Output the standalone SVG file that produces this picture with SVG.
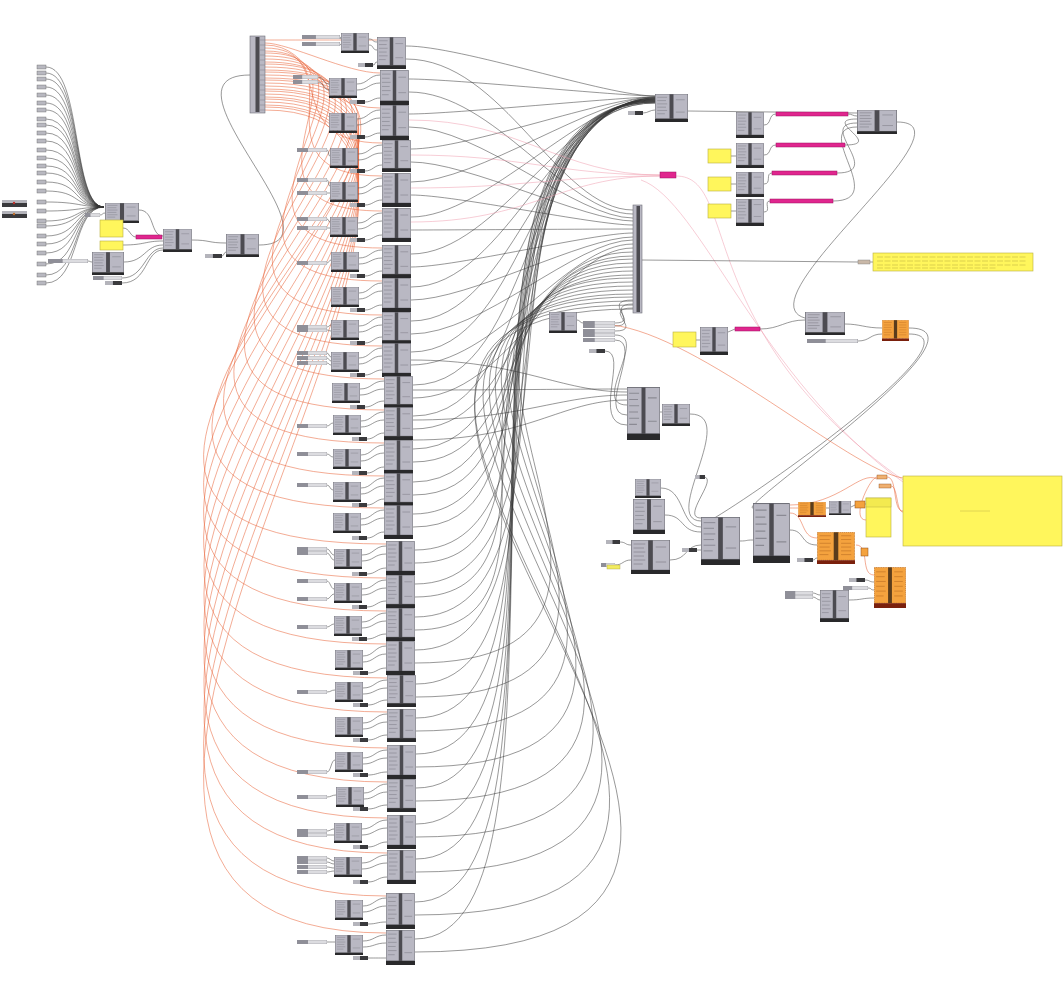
<svg xmlns="http://www.w3.org/2000/svg" width="1063" height="997" viewBox="0 0 1063 997">
<style>
.w{fill:none;stroke:#333;stroke-width:.6;opacity:.85}
.o{fill:none;stroke:#e8643a;stroke-width:.6;opacity:.9}
.p{fill:none;stroke:#ee9aac;stroke-width:.5}
.g{fill:none;stroke:#555;stroke-width:.6}
.yl{fill:#fff65c;stroke:#b8b040;stroke-width:.6}
.mg{fill:#e0268e;stroke:#9c1060;stroke-width:.5}
.fs{fill:#b8b8c0;stroke:#666;stroke-width:.4}
.bd{fill:#b9b8c3;stroke:#707079;stroke-width:.6}
.st{fill:#4c4b51}
</style>
<defs>
<symbol id="c" viewBox="0 0 30 34" preserveAspectRatio="none">
<rect x=".3" y=".3" width="29.4" height="29.7" fill="#b9b8c3" stroke="#707079" stroke-width=".6"/>
<rect x="13.2" y=".3" width="3.6" height="29.7" fill="#4c4b51"/>
<rect y="30" width="30" height="4" fill="#29292b"/>
<path d="M2 4h9M2 8h8M2 12h9M2 16h8M2 20h9M2 24h7M19 7h8M19 22h8" stroke="#8b8a94" stroke-width=".7"/>
</symbol>
<symbol id="co" viewBox="0 0 30 34" preserveAspectRatio="none">
<rect x=".3" y=".3" width="29.4" height="29.7" fill="#f4a23e" stroke="#b5651d" stroke-width=".6" stroke-dasharray="1 .6"/>
<rect x="13.2" y=".3" width="3.6" height="29.7" fill="#5a3c1c"/>
<rect y="30" width="30" height="4" fill="#7a200c"/>
<path d="M2 4h9M2 8h8M2 12h9M2 16h8M2 20h9M2 24h7M19 4h8M19 8h8M19 12h8M19 16h8M19 20h8M19 24h8" stroke="#c97a2a" stroke-width=".7"/>
</symbol>
<symbol id="sl" viewBox="0 0 30 4" preserveAspectRatio="none">
<rect width="30" height="4" fill="#dcdce0" stroke="#8a8a90" stroke-width=".5"/>
<rect width="11" height="4" fill="#8f8f98"/>
</symbol>
<symbol id="tg" viewBox="0 0 15 4" preserveAspectRatio="none">
<rect width="15" height="4" fill="#3a3a3d"/>
<rect width="7" height="4" fill="#b4b4bb"/>
</symbol>
</defs>
<rect width="1063" height="997" fill="#ffffff"/>

<g id="connectors">
<path class="w" d="M46,67 C82,67 72,207 104,207 M46,73 C82,73 72,207 104,207 M46,79 C82,79 72,207 104,207 M46,87 C82,87 72,207 104,207 M46,95 C82,95 72,207 104,207 M46,103 C82,103 72,207 104,207 M46,110 C82,110 72,207 104,207 M46,119 C82,119 72,207 104,207 M46,125 C82,125 72,207 104,207 M46,133 C82,133 72,207 104,207 M46,141 C82,141 72,207 104,207 M46,150 C82,150 72,207 104,207 M46,158 C82,158 72,207 104,207 M46,166 C82,166 72,207 104,207 M46,173 C82,173 72,207 104,207 M46,182 C82,182 72,207 104,207 M46,191 C82,191 72,207 104,207 M46,202 C80,202 80,207 104,207 M46,211 C80,211 80,207 104,207 M46,221 C80,221 76,207 104,207 M46,226 C80,226 76,207 104,207 M46,236 C80,236 74,207 104,207 M46,244 C80,244 74,207 104,207 M46,253 C80,253 72,207 104,207 M46,264 C80,264 72,207 104,207 M46,275 C80,275 72,207 104,207 M46,283 C80,283 72,207 104,207"/>
<path class="w" d="M139,210 C155,210 150,236 163,236 M123,228 C130,228 130,237 136,237 M124,262 C145,262 145,245 163,245 M123,245 C145,245 145,241 163,241 M122,278 C145,278 145,248 163,248 M122,283 C148,283 145,250 163,250 M88,261 C90,261 90,262 92,262 M100,215 C103,215 102,213 105,213 M192,240 C210,240 208,243 226,243 M222,256 C224,256 224,252 226,252 M259,245 C350,245 150,75 250,75"/>
<path class="o" d="M265,40 C285,40 357,40 377,40 M265,43 C289,43 347,73 380,73 M265,45 C315,45 311,108 380,108 M265,48 C341,48 277,143 382,143 M265,51 C365,51 244,176 382,176 M265,53 C391,53 208,211 382,211 M265,56 C419,56 171,248 382,248 M265,59 C443,59 138,281 382,281 M265,62 C467,62 104,315 382,315 M265,64 C491,64 72,346 382,346 M265,67 C515,67 41,379 384,379 M265,70 C537,70 10,410 384,410 M265,72 C562,72 -24,443 384,443 M265,75 C586,75 -57,476 384,476 M265,78 C600,78 -89,508 384,508 M265,80 C600,80 -110,544 386,544 M265,83 C600,83 -110,578 386,578 M265,86 C600,86 -110,611 386,611 M265,89 C600,89 -110,644 386,644 M265,91 C600,91 -110,678 387,678 M265,94 C600,94 -110,712 387,712 M265,97 C600,97 -110,748 387,748 M265,99 C600,99 -110,782 387,782 M265,102 C600,102 -110,818 387,818 M265,105 C600,105 -110,853 387,853 M265,107 C600,107 -110,896 386,896 M265,110 C600,110 -110,933 386,933"/>
<path class="g" d="M369,39 C374,39 372,42 377,42 M369,45 C374,45 372,50 377,50 M373,65 C376,65 374,62 377,62
M357,84 C368,84 369,75 380,75 M357,90 C368,90 369,83 380,83 M365,102 C372,102 373,98 380,98
M357,119 C368,119 369,110 380,110 M357,125 C368,125 369,118 380,118 M365,137 C372,137 373,133 380,133
M358,154 C370,154 370,145 382,145 M358,160 C370,160 370,153 382,153 M365,171 C373,171 374,165 382,165
M358,188 C370,188 370,178 382,178 M358,194 C370,194 370,186 382,186 M365,205 C373,205 374,200 382,200
M358,223 C370,223 370,213 382,213 M358,229 C370,229 370,221 382,221 M365,240 C373,240 374,235 382,235
M359,258 C370,258 371,250 382,250 M359,264 C370,264 371,258 382,258 M365,276 C373,276 374,271 382,271
M359,293 C370,293 371,283 382,283 M359,299 C370,299 371,291 382,291 M365,310 C373,310 374,305 382,305
M359,326 C370,326 371,317 382,317 M359,332 C370,332 371,325 382,325 M365,343 C373,343 374,337 382,337
M359,358 C370,358 371,348 382,348 M359,364 C370,364 371,356 382,356 M365,375 C373,375 374,370 382,370
M360,389 C372,389 372,381 384,381 M360,395 C372,395 372,389 384,389 M365,407 C374,407 375,401 384,401
M361,421 C372,421 373,412 384,412 M361,427 C372,427 373,420 384,420 M367,439 C375,439 376,433 384,433
M361,455 C372,455 373,445 384,445 M361,461 C372,461 373,453 384,453 M367,473 C375,473 376,467 384,467
M361,488 C372,488 373,478 384,478 M361,494 C372,494 373,486 384,486 M367,505 C375,505 376,499 384,499
M361,519 C372,519 373,510 384,510 M361,525 C372,525 373,518 384,518 M367,538 C375,538 376,532 384,532
M362,555 C374,555 374,546 386,546 M362,561 C374,561 374,554 386,554 M367,574 C376,574 377,568 386,568
M362,589 C374,589 374,580 386,580 M362,595 C374,595 374,588 386,588 M367,607 C376,607 377,601 386,601
M362,622 C374,622 374,613 386,613 M362,628 C374,628 374,621 386,621 M367,639 C376,639 377,634 386,634
M363,656 C374,656 375,646 386,646 M363,662 C374,662 375,654 386,654 M368,673 C377,673 377,668 386,668
M363,688 C375,688 375,680 387,680 M363,694 C375,694 375,688 387,688 M368,705 C377,705 378,700 387,700
M363,723 C375,723 375,714 387,714 M363,729 C375,729 375,722 387,722 M368,740 C377,740 378,735 387,735
M363,758 C375,758 375,750 387,750 M363,764 C375,764 375,758 387,758 M368,775 C377,775 378,772 387,772
M364,793 C375,793 376,784 387,784 M364,799 C375,799 376,792 387,792 M368,809 C377,809 378,805 387,805
M362,829 C374,829 375,820 387,820 M362,835 C374,835 375,828 387,828 M368,847 C377,847 378,842 387,842
M362,863 C374,863 375,855 387,855 M362,869 C374,869 375,863 387,863 M368,882 C377,882 378,877 387,877
M363,906 C374,906 375,898 386,898 M363,912 C374,912 375,906 386,906 M368,924 C377,924 377,922 386,922
M363,941 C374,941 375,935 386,935 M363,947 C374,947 375,943 386,943 M368,958 C377,958 377,958 386,958"/>
<path class="g" d="M340,37 C341,37 340,39 341,39 M340,44 C341,44 340,45 341,45 M318,77 C324,77 323,84 329,84 M318,82 C324,82 323,90 329,90
M327,150 C329,150 328,156 330,156 M327,180 C329,180 328,186 330,186 M327,193 C329,193 328,193 330,193 M327,219 C329,219 328,222 330,222 M327,228 C329,228 328,228 330,228
M327,263 C329,263 329,260 331,260 M327,327 C329,327 329,325 331,325 M327,330 C329,330 329,331 331,331 M327,353 C329,353 329,357 331,357 M327,358 C329,358 329,361 331,361 M327,363 C329,363 329,365 331,365
M327,426 C330,426 330,423 333,423 M327,454 C330,454 330,457 333,457 M327,485 C330,485 330,490 333,490 M327,549 C330,549 331,555 334,555 M327,553 C330,553 331,560 334,560 M327,581 C330,581 331,589 334,589 M327,599 C330,599 331,594 334,594 M327,627 C330,627 331,624 334,624
M327,692 C331,692 331,690 335,690 M327,772 C331,772 331,760 335,760 M327,797 C331,797 332,795 336,795 M327,831 C330,831 331,829 334,829 M327,835 C330,835 331,835 334,835
M327,858 C330,858 331,861 334,861 M327,862 C330,862 331,864 334,864 M327,867 C330,867 331,868 334,868 M327,872 C330,872 331,871 334,871 M327,942 C331,942 331,942 335,942"/>
<path class="w" d="M406,46 C461,46 607,96 655,96 M409,79 C454,79 619,96 655,96 M409,114 C454,114 619,97 655,97 M411,149 C467,149 607,97 655,97 M411,182 C477,182 595,97 655,97 M411,217 C487,217 583,98 655,98 M411,254 C498,254 570,98 655,98 M411,287 C508,287 558,98 655,98 M411,321 C518,321 547,98 655,98 M411,352 C528,352 536,99 655,99 M413,385 C539,385 524,99 655,99 M413,416 C549,416 513,99 655,99 M413,449 C559,449 502,99 655,99 M413,482 C568,482 490,100 655,100 M413,514 C578,514 479,100 655,100 M415,550 C591,550 466,100 655,100 M415,584 C601,584 455,100 655,100 M415,617 C605,617 443,101 655,101 M415,650 C605,650 432,101 655,101 M416,684 C606,684 420,101 655,101 M416,718 C606,718 408,101 655,101 M416,754 C606,754 405,102 655,102 M416,788 C606,788 405,102 655,102 M416,824 C606,824 405,102 655,102 M416,859 C606,859 405,102 655,102 M415,902 C605,902 405,103 655,103 M415,939 C605,939 405,103 655,103"/>
<path class="w" d="M406,59 C504,59 558,210 633,210 M409,92 C494,92 566,214 633,214 M409,127 C480,127 576,218 633,218 M411,162 C468,162 585,221 633,221 M411,195 C455,195 594,225 633,225 M411,230 C441,230 603,229 633,229 M411,267 C456,267 593,233 633,233 M411,300 C469,300 584,237 633,237 M411,334 C483,334 575,240 633,240 M411,365 C495,365 567,244 633,244 M413,398 C511,398 558,248 633,248 M413,429 C523,429 509,252 633,252 M413,462 C536,462 489,256 633,256 M413,495 C549,495 468,259 633,259 M413,527 C562,527 448,263 633,263 M415,563 C578,563 426,267 633,267 M415,597 C592,597 405,271 633,271 M415,630 C605,630 384,275 633,275 M415,663 C740,663 340,278 633,278 M416,697 C770,697 315,282 633,282 M416,731 C800,731 290,286 633,286 M416,767 C830,767 265,290 633,290 M416,801 C860,801 240,294 633,294 M416,837 C890,837 215,297 633,297 M416,872 C920,872 190,301 633,301 M415,915 C950,915 160,305 633,305 M415,952 C980,952 150,309 633,309"/>
<path class="w" d="M411,360 C520,360 560,392 627,392 M413,390 C520,390 560,389 627,389 M413,420 C520,420 560,395 627,395 M413,440 C530,440 560,400 627,400"/>
<path class="p" d="M409,120 C520,120 560,175 660,175 M411,155 C520,155 560,175 660,175 M411,188 C520,188 560,176 660,176 M411,222 C530,222 560,176 660,176 M676,176 C740,176 690,330 903,480 M641,180 C700,200 760,380 903,482"/>
<path class="g" d="M643,113 C648,113 650,110 655,110 M688,111 L857,113 M731,156 L736,156 M731,184 L736,184 M731,211 L736,211 M764,125 C772,125 768,114 776,114 M764,155 C772,155 768,145 776,145 M764,184 C772,184 765,173 772,173 M764,212 C772,212 763,201 770,201 M848,114 C852,114 853,116 857,116 M845,145 C885,145 820,119 857,119 M837,173 C885,173 815,123 857,123 M833,201 C890,201 810,127 857,127 M897,122 C980,122 740,300 805,318"/>
<path class="g" d="M641,260 L858,262 M870,262 L873,262 M696,340 L700,340 M728,332 L735,329 M760,329 C780,329 785,320 805,320 M845,324 C860,324 865,328 882,328 M858,341 C870,341 870,334 882,334 M577,320 C580,320 580,323 583,323 M615,323 C640,323 600,300 633,300 M615,326 C640,326 605,304 633,304 M615,331 C645,331 600,308 633,308 M615,335 C650,335 590,405 627,405 M615,340 C645,340 595,415 627,415 M605,351 C630,351 590,425 627,425 M660,412 L662,412 M690,414 C740,414 660,520 701,521"/>
<path class="w" d="M909,328 C1000,328 735,508 753,508 M909,334 C990,334 720,520 701,525 M703,477 C720,477 680,518 701,518"/>
<path class="o" d="M612,325 C700,335 850,470 903,478"/>
<path class="g" d="M661,488 C685,488 680,527 701,527 M665,515 C685,515 680,532 701,532 M670,560 C688,560 685,545 701,545 M697,550 L701,550 M620,542 C626,542 625,545 631,545 M615,565 C623,565 623,560 631,560 M740,541 C748,541 745,540 753,540 M790,530 C805,530 800,545 817,545 M826,508 L829,508 M851,507 L855,505 M865,504 L866,504 M813,560 C816,560 814,558 817,558 M865,580 C870,580 869,582 874,582 M849,600 C862,600 862,598 874,598 M813,593 C816,593 817,595 820,595 M813,597 C816,597 817,600 820,600 M868,588 C872,588 870,590 874,590"/>
<path class="o" d="M790,508 C794,508 794,508 798,508 M790,513 C805,513 800,538 817,538 M856,545 C870,545 860,575 874,575 M866,520 C850,520 870,477 877,477 M887,477 C898,477 892,511 903,511 M891,486 C898,486 896,512 903,512 M790,505 C840,505 860,470 877,479"/>
</g>

<g id="farleft-sliders" class="fs">
<rect x="37" y="65" width="9" height="4"/><rect x="37" y="71" width="9" height="4"/><rect x="37" y="77" width="9" height="4"/><rect x="37" y="85" width="9" height="4"/><rect x="37" y="93" width="9" height="4"/><rect x="37" y="101" width="9" height="4"/><rect x="37" y="108" width="9" height="4"/><rect x="37" y="117" width="9" height="4"/><rect x="37" y="123" width="9" height="4"/><rect x="37" y="131" width="9" height="4"/><rect x="37" y="139" width="9" height="4"/><rect x="37" y="148" width="9" height="4"/><rect x="37" y="156" width="9" height="4"/><rect x="37" y="164" width="9" height="4"/><rect x="37" y="171" width="9" height="4"/><rect x="37" y="180" width="9" height="4"/><rect x="37" y="189" width="9" height="4"/><rect x="37" y="200" width="9" height="4"/><rect x="37" y="209" width="9" height="4"/><rect x="37" y="219" width="9" height="4"/><rect x="37" y="224" width="9" height="4"/><rect x="37" y="234" width="9" height="4"/><rect x="37" y="242" width="9" height="4"/><rect x="37" y="251" width="9" height="4"/><rect x="37" y="262" width="9" height="4"/><rect x="37" y="273" width="9" height="4"/><rect x="37" y="281" width="9" height="4"/>
</g>
<g id="fl-dark1"><rect x="2" y="200" width="25" height="7" fill="#3a3a3d"/><rect x="2" y="200" width="25" height="3" fill="#b4b4bb"/><circle cx="14" cy="203" r="1.2" fill="#c0302a"/></g>
<g id="fl-dark2"><rect x="2" y="211" width="25" height="7" fill="#3a3a3d"/><rect x="2" y="211" width="25" height="3" fill="#b4b4bb"/><circle cx="14" cy="214" r="1.2" fill="#c0702a"/></g>
<g id="nA"><use href="#c" x="105" y="203" width="34" height="20"/></g>
<g id="sA"><use href="#sl" x="85" y="213" width="15" height="4"/></g>
<g id="pA1"><rect class="yl" x="100" y="220" width="23" height="17"/></g>
<g id="pA2"><rect class="yl" x="100" y="241" width="23" height="9"/></g>
<g id="nB"><use href="#c" x="92" y="252" width="32" height="23"/></g>
<g id="sB1"><use href="#sl" x="48" y="259" width="40" height="4"/></g>
<g id="sB2"><use href="#sl" x="93" y="276" width="29" height="4"/></g>
<g id="sB3"><use href="#tg" x="105" y="281" width="17" height="4"/></g>
<g id="mA"><rect class="mg" x="136" y="235" width="26" height="4"/></g>
<g id="nC"><use href="#c" x="163" y="229" width="29" height="23"/></g>
<g id="nD"><use href="#c" x="226" y="234" width="33" height="23"/></g>
<g id="sD"><use href="#tg" x="205" y="254" width="17" height="4"/></g>

<g id="list1"><rect class="bd" x="250" y="36" width="15" height="77"/><rect class="st" x="255.5" y="37" width="4" height="75"/><path d="M260,40h5M260,45h5M260,50h5M260,55h5M260,60h5M260,65h5M260,70h5M260,75h5M260,80h5M260,85h5M260,90h5M260,95h5M260,100h5M260,105h5M260,110h5" stroke="#8b8a94" stroke-width=".6"/></g>

<g id="s1"><use href="#c" x="341" y="33" width="28" height="20"/></g>
<g id="s2"><use href="#c" x="329" y="78" width="28" height="20"/></g>
<g id="s3"><use href="#c" x="329" y="113" width="28" height="20"/></g>
<g id="s4"><use href="#c" x="330" y="148" width="28" height="20"/></g>
<g id="s5"><use href="#c" x="330" y="182" width="28" height="20"/></g>
<g id="s6"><use href="#c" x="330" y="217" width="28" height="20"/></g>
<g id="s7"><use href="#c" x="331" y="252" width="28" height="20"/></g>
<g id="s8"><use href="#c" x="331" y="287" width="28" height="20"/></g>
<g id="s9"><use href="#c" x="331" y="320" width="28" height="20"/></g>
<g id="s10"><use href="#c" x="331" y="352" width="28" height="20"/></g>
<g id="s11"><use href="#c" x="332" y="383" width="28" height="20"/></g>
<g id="s12"><use href="#c" x="333" y="415" width="28" height="20"/></g>
<g id="s13"><use href="#c" x="333" y="449" width="28" height="20"/></g>
<g id="s14"><use href="#c" x="333" y="482" width="28" height="20"/></g>
<g id="s15"><use href="#c" x="333" y="513" width="28" height="20"/></g>
<g id="s16"><use href="#c" x="334" y="549" width="28" height="20"/></g>
<g id="s17"><use href="#c" x="334" y="583" width="28" height="20"/></g>
<g id="s18"><use href="#c" x="334" y="616" width="28" height="20"/></g>
<g id="s19"><use href="#c" x="335" y="650" width="28" height="20"/></g>
<g id="s20"><use href="#c" x="335" y="682" width="28" height="20"/></g>
<g id="s21"><use href="#c" x="335" y="717" width="28" height="20"/></g>
<g id="s22"><use href="#c" x="335" y="752" width="28" height="20"/></g>
<g id="s23"><use href="#c" x="336" y="787" width="28" height="20"/></g>
<g id="s24"><use href="#c" x="334" y="823" width="28" height="20"/></g>
<g id="s25"><use href="#c" x="334" y="857" width="28" height="20"/></g>
<g id="s26"><use href="#c" x="335" y="900" width="28" height="20"/></g>
<g id="s27"><use href="#c" x="335" y="935" width="28" height="20"/></g>

<g id="b1"><use href="#c" x="377" y="37" width="29" height="32"/></g>
<g id="b2"><use href="#c" x="380" y="70" width="29" height="35"/></g>
<g id="b3"><use href="#c" x="380" y="105" width="29" height="35"/></g>
<g id="b4"><use href="#c" x="382" y="140" width="29" height="32"/></g>
<g id="b5"><use href="#c" x="382" y="173" width="29" height="34"/></g>
<g id="b6"><use href="#c" x="382" y="208" width="29" height="34"/></g>
<g id="b7"><use href="#c" x="382" y="245" width="29" height="33"/></g>
<g id="b8"><use href="#c" x="382" y="278" width="29" height="34"/></g>
<g id="b9"><use href="#c" x="382" y="312" width="29" height="32"/></g>
<g id="b10"><use href="#c" x="382" y="343" width="29" height="34"/></g>
<g id="b11"><use href="#c" x="384" y="376" width="29" height="32"/></g>
<g id="b12"><use href="#c" x="384" y="407" width="29" height="33"/></g>
<g id="b13"><use href="#c" x="384" y="440" width="29" height="34"/></g>
<g id="b14"><use href="#c" x="384" y="473" width="29" height="33"/></g>
<g id="b15"><use href="#c" x="384" y="505" width="29" height="34"/></g>
<g id="b16"><use href="#c" x="386" y="541" width="29" height="34"/></g>
<g id="b17"><use href="#c" x="386" y="575" width="29" height="33"/></g>
<g id="b18"><use href="#c" x="386" y="608" width="29" height="33"/></g>
<g id="b19"><use href="#c" x="386" y="641" width="29" height="34"/></g>
<g id="b20"><use href="#c" x="387" y="675" width="29" height="32"/></g>
<g id="b21"><use href="#c" x="387" y="709" width="29" height="33"/></g>
<g id="b22"><use href="#c" x="387" y="745" width="29" height="34"/></g>
<g id="b23"><use href="#c" x="387" y="779" width="29" height="33"/></g>
<g id="b24"><use href="#c" x="387" y="815" width="29" height="34"/></g>
<g id="b25"><use href="#c" x="387" y="850" width="29" height="34"/></g>
<g id="b26"><use href="#c" x="386" y="893" width="29" height="36"/></g>
<g id="b27"><use href="#c" x="386" y="930" width="29" height="35"/></g>

<g id="tags">
<use href="#tg" x="358" y="63" width="15" height="4"/><use href="#tg" x="350" y="100" width="15" height="4"/><use href="#tg" x="350" y="135" width="15" height="4"/><use href="#tg" x="350" y="169" width="15" height="4"/><use href="#tg" x="350" y="203" width="15" height="4"/><use href="#tg" x="350" y="238" width="15" height="4"/><use href="#tg" x="350" y="274" width="15" height="4"/><use href="#tg" x="350" y="308" width="15" height="4"/><use href="#tg" x="350" y="341" width="15" height="4"/><use href="#tg" x="350" y="373" width="15" height="4"/><use href="#tg" x="350" y="405" width="15" height="4"/><use href="#tg" x="352" y="437" width="15" height="4"/><use href="#tg" x="352" y="471" width="15" height="4"/><use href="#tg" x="352" y="503" width="15" height="4"/><use href="#tg" x="352" y="536" width="15" height="4"/><use href="#tg" x="352" y="572" width="15" height="4"/><use href="#tg" x="352" y="605" width="15" height="4"/><use href="#tg" x="352" y="637" width="15" height="4"/><use href="#tg" x="353" y="671" width="15" height="4"/><use href="#tg" x="353" y="703" width="15" height="4"/><use href="#tg" x="353" y="738" width="15" height="4"/><use href="#tg" x="353" y="773" width="15" height="4"/><use href="#tg" x="353" y="807" width="15" height="4"/><use href="#tg" x="353" y="845" width="15" height="4"/><use href="#tg" x="353" y="880" width="15" height="4"/><use href="#tg" x="353" y="922" width="15" height="4"/><use href="#tg" x="353" y="956" width="15" height="4"/>
</g>
<g id="sliders">
<use href="#sl" x="302" y="35" width="38" height="4"/><use href="#sl" x="302" y="42" width="38" height="4"/><use href="#sl" x="293" y="75" width="25" height="4"/><use href="#sl" x="293" y="80" width="25" height="4"/>
<use href="#sl" x="297" y="148" width="30" height="4"/><use href="#sl" x="297" y="178" width="30" height="4"/><use href="#sl" x="297" y="191" width="30" height="4"/><use href="#sl" x="297" y="217" width="30" height="4"/><use href="#sl" x="297" y="226" width="30" height="4"/><use href="#sl" x="297" y="261" width="30" height="4"/><use href="#sl" x="297" y="325" width="30" height="4"/><use href="#sl" x="297" y="329" width="30" height="3"/><use href="#sl" x="297" y="351" width="30" height="4"/><use href="#sl" x="297" y="356" width="30" height="4"/><use href="#sl" x="297" y="361" width="30" height="4"/>
<use href="#sl" x="297" y="424" width="30" height="4"/><use href="#sl" x="297" y="452" width="30" height="4"/><use href="#sl" x="297" y="483" width="30" height="4"/><use href="#sl" x="297" y="547" width="30" height="4"/><use href="#sl" x="297" y="551" width="30" height="4"/><use href="#sl" x="297" y="579" width="30" height="4"/><use href="#sl" x="297" y="597" width="30" height="4"/><use href="#sl" x="297" y="625" width="30" height="4"/>
<use href="#sl" x="297" y="690" width="30" height="4"/><use href="#sl" x="297" y="770" width="30" height="4"/><use href="#sl" x="297" y="795" width="30" height="4"/><use href="#sl" x="297" y="829" width="30" height="4"/><use href="#sl" x="297" y="833" width="30" height="4"/><use href="#sl" x="297" y="856" width="30" height="4"/><use href="#sl" x="297" y="860" width="30" height="4"/><use href="#sl" x="297" y="865" width="30" height="4"/><use href="#sl" x="297" y="870" width="30" height="4"/><use href="#sl" x="297" y="940" width="30" height="4"/>
</g>

<g id="R1"><use href="#c" x="655" y="94" width="33" height="28"/></g>
<g id="R1s"><use href="#tg" x="628" y="111" width="15" height="4"/></g>
<g id="R2a"><use href="#c" x="736" y="112" width="28" height="26"/></g>
<g id="R2b"><use href="#c" x="736" y="143" width="28" height="25"/></g>
<g id="R2c"><use href="#c" x="736" y="172" width="28" height="25"/></g>
<g id="R2d"><use href="#c" x="736" y="199" width="28" height="27"/></g>
<g id="Y1"><rect class="yl" x="708" y="149" width="23" height="14"/></g>
<g id="Y2"><rect class="yl" x="708" y="177" width="23" height="14"/></g>
<g id="Y3"><rect class="yl" x="708" y="204" width="23" height="14"/></g>
<g id="M1"><rect class="mg" x="776" y="112" width="72" height="4"/></g>
<g id="M2"><rect class="mg" x="776" y="143" width="69" height="4"/></g>
<g id="M3"><rect class="mg" x="772" y="171" width="65" height="4"/></g>
<g id="M4"><rect class="mg" x="770" y="199" width="63" height="4"/></g>
<g id="R3"><use href="#c" x="857" y="110" width="40" height="24"/></g>
<g id="M5"><rect class="mg" x="660" y="172" width="16" height="6"/></g>
<g id="list2"><rect class="bd" x="633" y="205" width="9" height="108"/><rect class="st" x="636.5" y="206" width="3.5" height="106"/></g>
<g id="T1"><rect x="858" y="260" width="12" height="4" fill="#c9b8a8" stroke="#777" stroke-width=".4"/></g>
<g id="Ywide"><rect class="yl" x="873" y="253" width="160" height="18"/><path d="M877,257h150M877,261h150M877,265h150M877,268h120" stroke="#d2c84a" stroke-width=".8" stroke-dasharray="6 1.5"/></g>
<g id="R4"><use href="#c" x="805" y="312" width="40" height="23"/></g>
<g id="R4s"><use href="#sl" x="807" y="339" width="51" height="4"/></g>
<g id="O1"><use href="#co" x="882" y="320" width="27" height="21"/></g>
<g id="Y4"><rect class="yl" x="673" y="332" width="23" height="15"/></g>
<g id="R5"><use href="#c" x="700" y="327" width="28" height="28"/></g>
<g id="M6"><rect class="mg" x="735" y="327" width="25" height="4"/></g>
<g id="R6"><use href="#c" x="549" y="312" width="28" height="21"/></g>
<g id="R6s"><use href="#sl" x="583" y="321" width="32" height="4"/><use href="#sl" x="583" y="324" width="32" height="4"/><use href="#sl" x="583" y="329" width="32" height="4"/><use href="#sl" x="583" y="333" width="32" height="4"/><use href="#sl" x="583" y="338" width="32" height="4"/><use href="#tg" x="589" y="349" width="16" height="4"/></g>
<g id="R7"><use href="#c" x="627" y="387" width="33" height="53"/></g>
<g id="R8"><use href="#c" x="662" y="404" width="28" height="22"/></g>

<g id="Q1"><use href="#c" x="635" y="479" width="26" height="19"/></g>
<g id="Q2"><use href="#c" x="633" y="499" width="32" height="35"/></g>
<g id="Q3"><use href="#c" x="631" y="540" width="39" height="34"/></g>
<g id="Q3s"><use href="#tg" x="606" y="540" width="14" height="4"/><use href="#sl" x="601" y="563" width="14" height="4"/><rect x="607" y="565" width="13" height="4" fill="#f2ec60" stroke="#aaa040" stroke-width=".4"/></g>
<g id="Q4"><use href="#c" x="701" y="517" width="39" height="48"/></g>
<g id="Q4s"><use href="#tg" x="682" y="548" width="15" height="4"/><use href="#tg" x="695" y="475" width="10" height="4"/></g>
<g id="Q5"><use href="#c" x="753" y="503" width="37" height="60"/></g>
<g id="O2"><use href="#co" x="798" y="502" width="28" height="15"/></g>
<g id="Q6"><use href="#c" x="829" y="501" width="22" height="14"/></g>
<g id="O3"><rect x="855" y="501" width="10" height="7" fill="#f4a23e" stroke="#8a4a1a" stroke-width=".5"/></g>
<g id="Y5"><rect class="yl" x="866" y="498" width="25" height="39"/><rect x="866" y="498" width="25" height="9" fill="#f3ea50" stroke="#b8b040" stroke-width=".5"/></g>
<g id="O4"><rect x="877" y="475" width="10" height="4" fill="#f0b070" stroke="#8a4a1a" stroke-width=".4"/></g>
<g id="O5"><rect x="879" y="484" width="12" height="4" fill="#f0b070" stroke="#8a4a1a" stroke-width=".4"/></g>
<g id="Ybig"><rect class="yl" x="903" y="476" width="159" height="70"/><path d="M960,511h30" stroke="#d8ce50" stroke-width=".8"/></g>
<g id="O6"><use href="#co" x="817" y="532" width="38" height="32"/></g>
<g id="O7"><rect x="861" y="548" width="7" height="8" fill="#f4a23e" stroke="#8a4a1a" stroke-width=".5"/></g>
<g id="O6s"><use href="#tg" x="797" y="558" width="16" height="4"/></g>
<g id="O8"><use href="#co" x="874" y="567" width="32" height="41"/></g>
<g id="O8s"><use href="#tg" x="849" y="578" width="16" height="4"/></g>
<g id="Q7"><use href="#c" x="820" y="590" width="29" height="32"/></g>
<g id="Q7s"><use href="#sl" x="785" y="591" width="28" height="4"/><use href="#sl" x="785" y="595" width="28" height="4"/><use href="#sl" x="843" y="586" width="25" height="4"/></g>
</svg>
